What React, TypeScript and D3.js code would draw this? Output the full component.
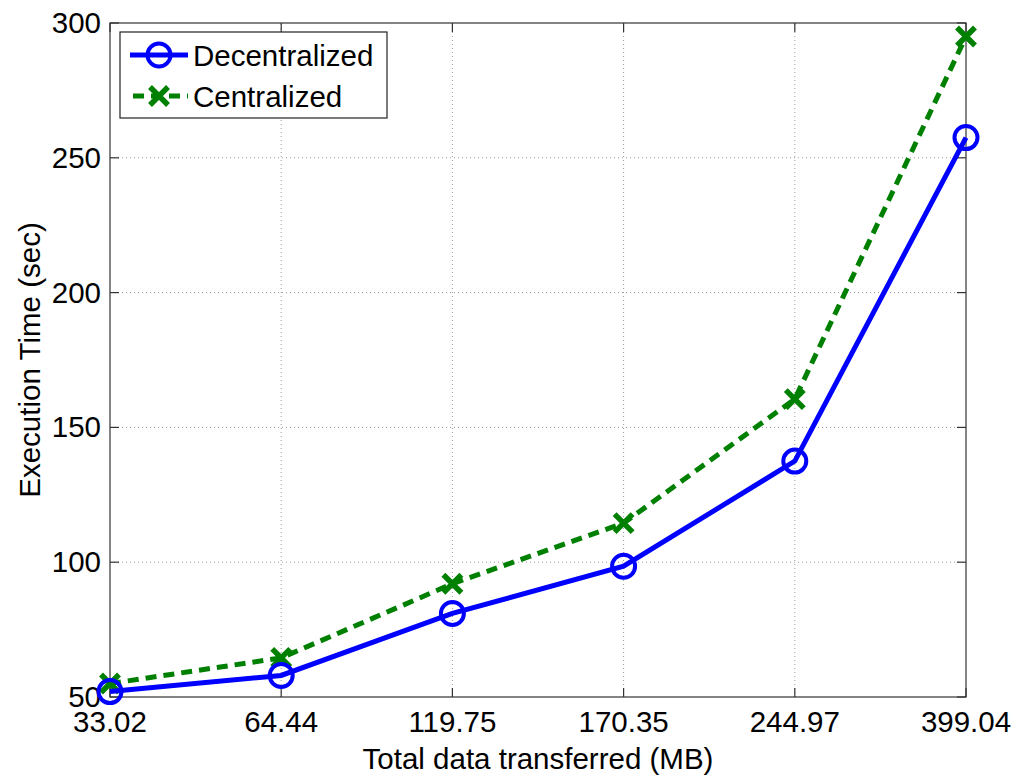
import { useEffect, useRef } from "react"
import * as d3 from "d3"

const categories = ["33.02", "64.44", "119.75", "170.35", "244.97", "399.04"]
const decentralized = [52, 58, 81, 98.5, 137.5, 257.5]
const centralized = [55, 64.5, 92, 114.5, 160.5, 295]
const yTicks = [50, 100, 150, 200, 250, 300]

export default function App() {
  const ref = useRef<SVGSVGElement | null>(null)

  useEffect(() => {
    const svg = d3.select(ref.current)
    svg.selectAll("*").remove()

    const width = 1014
    const height = 777
    const m = { left: 110, right: 48, top: 23, bottom: 80 }
    const font = "'Liberation Sans', Arial, sans-serif"
    const fs = 29.5

    svg.attr("width", width).attr("height", height).style("background", "#fff")

    const x = d3.scalePoint<string>()
      .domain(categories)
      .range([m.left, width - m.right])
    const y = d3.scaleLinear()
      .domain([50, 300])
      .range([height - m.bottom, m.top])

    const x0 = m.left, x1 = width - m.right
    const y0 = height - m.bottom, y1 = m.top

    // grid
    const grid = svg.append("g")
      .attr("stroke", "#999")
      .attr("stroke-width", 1)
      .attr("stroke-dasharray", "1,3")
    categories.slice(1, -1).forEach(c => {
      grid.append("line").attr("x1", x(c)!).attr("x2", x(c)!).attr("y1", y0).attr("y2", y1)
    })
    yTicks.slice(1, -1).forEach(t => {
      grid.append("line").attr("x1", x0).attr("x2", x1).attr("y1", y(t)).attr("y2", y(t))
    })

    // box + ticks
    const ax = svg.append("g").attr("stroke", "#333").attr("stroke-width", 1.2).attr("fill", "none")
    ax.append("rect").attr("x", x0).attr("y", y1).attr("width", x1 - x0).attr("height", y0 - y1)
    const tl = 9
    categories.forEach(c => {
      const px = x(c)!
      ax.append("line").attr("x1", px).attr("x2", px).attr("y1", y0).attr("y2", y0 - tl)
      ax.append("line").attr("x1", px).attr("x2", px).attr("y1", y1).attr("y2", y1 + tl)
    })
    yTicks.forEach(t => {
      ax.append("line").attr("x1", x0).attr("x2", x0 + tl).attr("y1", y(t)).attr("y2", y(t))
      ax.append("line").attr("x1", x1).attr("x2", x1 - tl).attr("y1", y(t)).attr("y2", y(t))
    })

    // tick labels
    svg.append("g").selectAll("text").data(categories).enter().append("text")
      .attr("x", d => x(d)!)
      .attr("y", y0 + 35)
      .attr("text-anchor", "middle")
      .attr("font-family", font)
      .attr("font-size", fs)
      .text(d => d)
    svg.append("g").selectAll("text").data(yTicks).enter().append("text")
      .attr("x", x0 - 9)
      .attr("y", d => y(d) + 10)
      .attr("text-anchor", "end")
      .attr("font-family", font)
      .attr("font-size", fs)
      .text(d => d)

    // axis titles
    svg.append("text")
      .attr("x", (x0 + x1) / 2)
      .attr("y", 769)
      .attr("text-anchor", "middle")
      .attr("font-family", font)
      .attr("font-size", fs)
      .text("Total data transferred (MB)")
    svg.append("text")
      .attr("transform", `translate(40,${(y0 + y1) / 2}) rotate(-90)`)
      .attr("text-anchor", "middle")
      .attr("font-family", font)
      .attr("font-size", fs)
      .text("Execution Time (sec)")

    const line = d3.line<number>()
      .x((_, i) => x(categories[i])!)
      .y(d => y(d))

    // centralized
    svg.append("path")
      .datum(centralized)
      .attr("d", line)
      .attr("fill", "none")
      .attr("stroke", "#008000")
      .attr("stroke-width", 5)
      .attr("stroke-dasharray", "11,7")
    const cross = (g: d3.Selection<SVGGElement, unknown, null, undefined>, cx: number, cy: number) => {
      const s = 9
      g.append("path")
        .attr("d", `M${cx - s},${cy - s}L${cx + s},${cy + s}M${cx - s},${cy + s}L${cx + s},${cy - s}`)
        .attr("stroke", "#008000")
        .attr("stroke-width", 5.5)
    }
    const cg = svg.append("g")
    centralized.forEach((v, i) => cross(cg, x(categories[i])!, y(v)))

    // decentralized
    svg.append("path")
      .datum(decentralized)
      .attr("d", line)
      .attr("fill", "none")
      .attr("stroke", "#0000ff")
      .attr("stroke-width", 5)
    svg.append("g").selectAll("circle").data(decentralized).enter().append("circle")
      .attr("cx", (_, i) => x(categories[i])!)
      .attr("cy", d => y(d))
      .attr("r", 11.5)
      .attr("fill", "none")
      .attr("stroke", "#0000ff")
      .attr("stroke-width", 4)

    // legend
    const lg = svg.append("g")
    lg.append("rect")
      .attr("x", 120).attr("y", 32).attr("width", 267).attr("height", 86)
      .attr("fill", "#fff").attr("stroke", "#222").attr("stroke-width", 1.2)
    lg.append("line").attr("x1", 130).attr("x2", 188).attr("y1", 55).attr("y2", 55)
      .attr("stroke", "#0000ff").attr("stroke-width", 5)
    lg.append("circle").attr("cx", 159).attr("cy", 55).attr("r", 11.5)
      .attr("fill", "none").attr("stroke", "#0000ff").attr("stroke-width", 4)
    lg.append("text").attr("x", 193).attr("y", 66)
      .attr("font-family", font).attr("font-size", fs).text("Decentralized")
    lg.append("line").attr("x1", 133).attr("x2", 188).attr("y1", 96).attr("y2", 96)
      .attr("stroke", "#008000").attr("stroke-width", 5).attr("stroke-dasharray", "11,7")
    cross(lg, 159, 96)
    lg.append("text").attr("x", 193).attr("y", 107)
      .attr("font-family", font).attr("font-size", fs).text("Centralized")
  }, [])

  return <svg ref={ref} style={{ position: "absolute", left: 0, top: 0 }} />
}
